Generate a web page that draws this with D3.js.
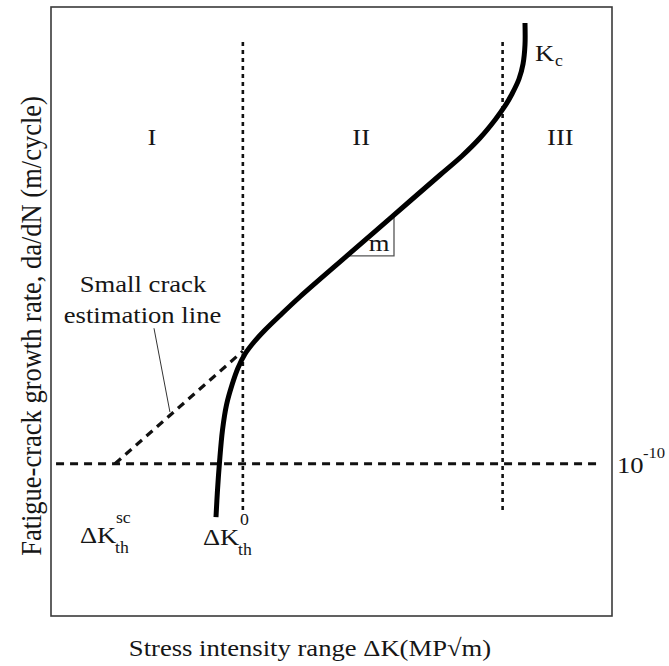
<!DOCTYPE html>
<html>
<head>
<meta charset="utf-8">
<script src="https://cdn.jsdelivr.net/npm/d3@7"></script>
<style>
  body { margin: 0; background: #fff; }
  text { font-family: "Liberation Serif", "Times New Roman", Times, serif; fill: #161616; }
</style>
</head>
<body>
<div id="chart"></div>
<script>
// crack growth curve: dK (arbitrary units) vs log10(da/dN)
var curveDK   = [29.41, 29.68, 30.04, 30.57, 31.28, 32.26, 33.33, 34.58, 36.19, 38.15, 40.82, 44.39, 53.30, 60.96, 69.34, 73.26, 76.47, 79.14, 80.93, 82.17, 83.42, 84.14, 84.49, 84.49];
var curveRate = [-10.70, -10.345, -9.977, -9.557, -9.228, -8.966, -8.742, -8.558, -8.401, -8.243, -8.052, -7.806, -7.234, -6.743, -6.207, -5.957, -5.721, -5.484, -5.30, -5.143, -4.946, -4.749, -4.499, -4.21];

// small crack estimation line
var smallCrackDK   = [11.4, 34.2];
var smallCrackRate = [-10, -8.52];

// region boundaries and labels
var boundaryDK = [34.2, 80.5];
var boundaryRate = [-4.46, -10.62];
var regionLabels = ["I", "II", "III"];
var regionDK = [18.0, 55.3, 90.8];
var regionRate = -5.8;

// reference rate 10^-10
var refRate = -10;
var refDK = [0.9, 98.2];

// slope triangle
var slopeDK = [53.12, 61.14, 61.14];
var slopeRate = [-7.27, -7.27, -6.73];

// leader from label to estimation line
var leaderDK = [18.36, 21.2];
var leaderRate = [-8.22, -9.32];

var width = 669, height = 666;

var svg = d3.select("#chart").append("svg")
	.attr("width", width)
	.attr("height", height)
	.attr("font-family", "Liberation Serif, Times New Roman, serif");

var x = d3.scaleLinear().domain([0, 100]).range([51, 612]);
var y = d3.scaleLinear().domain([-12, -4]).range([616, 7]);

function label(txt, px, py, size, anchor) {
	return svg.append("text")
		.attr("transform", "translate(" + px + "," + py + ") scale(1.11,1)")
		.attr("text-anchor", anchor || "start")
		.style("font-size", size + "px")
		.text(txt);
}

// frame
svg.append("rect")
	.attr("x", x(0))
	.attr("y", y(-4))
	.attr("width", x(100) - x(0))
	.attr("height", y(-12) - y(-4))
	.style("fill", "none")
	.style("stroke", "#3a3a3a")
	.style("stroke-width", 1.6);

// vertical region boundaries
svg.selectAll(".boundary").data(boundaryDK).enter().append("line")
	.attr("class", "boundary")
	.attr("x1", function(d) { return x(d); })
	.attr("x2", function(d) { return x(d); })
	.attr("y1", y(boundaryRate[0]))
	.attr("y2", y(boundaryRate[1]))
	.style("stroke", "#111")
	.style("stroke-width", 2.6)
	.attr("stroke-dasharray", "4 4");

// reference rate line
svg.append("line")
	.attr("x1", x(refDK[0]))
	.attr("x2", x(refDK[1]))
	.attr("y1", y(refRate))
	.attr("y2", y(refRate))
	.style("stroke", "#111")
	.style("stroke-width", 3.2)
	.attr("stroke-dasharray", "8 6");

// small crack estimation line
svg.append("line")
	.attr("x1", x(smallCrackDK[0]))
	.attr("y1", y(smallCrackRate[0]))
	.attr("x2", x(smallCrackDK[1]))
	.attr("y2", y(smallCrackRate[1]))
	.style("stroke", "#111")
	.style("stroke-width", 3.2)
	.attr("stroke-dasharray", "8 6");

// leader line
svg.append("line")
	.attr("x1", x(leaderDK[0]))
	.attr("y1", y(leaderRate[0]))
	.attr("x2", x(leaderDK[1]))
	.attr("y2", y(leaderRate[1]))
	.style("stroke", "#333")
	.style("stroke-width", 1);

// slope triangle
svg.append("path")
	.attr("d", d3.line()(slopeDK.map(function(d, i) { return [x(d), y(slopeRate[i])]; })))
	.style("fill", "none")
	.style("stroke", "#555")
	.style("stroke-width", 1.3);

// main curve
var line = d3.line()
	.x(function(d, i) { return x(curveDK[i]); })
	.y(function(d) { return y(d); })
	.curve(d3.curveCatmullRom.alpha(0.5));

svg.append("path")
	.attr("d", line(curveRate))
	.style("fill", "none")
	.style("stroke", "#000")
	.style("stroke-width", 5);

// region labels
regionLabels.forEach(function(t, i) {
	label(t, x(regionDK[i]), y(regionRate) + 1, 24, "middle");
});

label("m", x(slopeDK[1]) - 15, y(slopeRate[0]) - 5, 24, "middle");

label("Small crack", 143, 292, 24, "middle");
label("estimation line", 142.5, 323, 24, "middle");

// K_c
label("K", x(curveDK[curveDK.length - 1]) + 10, 61, 24);
label("c", x(curveDK[curveDK.length - 1]) + 30, 66, 16);

// 10^-10
label("10", x(100) + 5, y(refRate) + 9, 24);
label("-10", x(100) + 31, y(refRate) - 6, 15);

// threshold labels
var scX = x(smallCrackDK[0]) - 35;
label("\u0394K", scX, 543, 24);
label("sc", scX + 36, 523, 16);
label("th", scX + 35, 553, 16);

var zX = x(curveDK[0]) - 13;
label("\u0394K", zX, 545, 24);
label("0", zX + 37, 525, 16);
label("th", zX + 35, 555, 16);

// axis titles
label("Stress intensity range \u0394K(MP\u221Am)", 310, 656, 24, "middle");

svg.append("text")
	.attr("transform", "translate(41,326) scale(1.11,1) rotate(-90)")
	.attr("text-anchor", "middle")
	.style("font-size", "26.5px")
	.text("Fatigue-crack growth rate, da/dN (m/cycle)");
</script>
</body>
</html>
